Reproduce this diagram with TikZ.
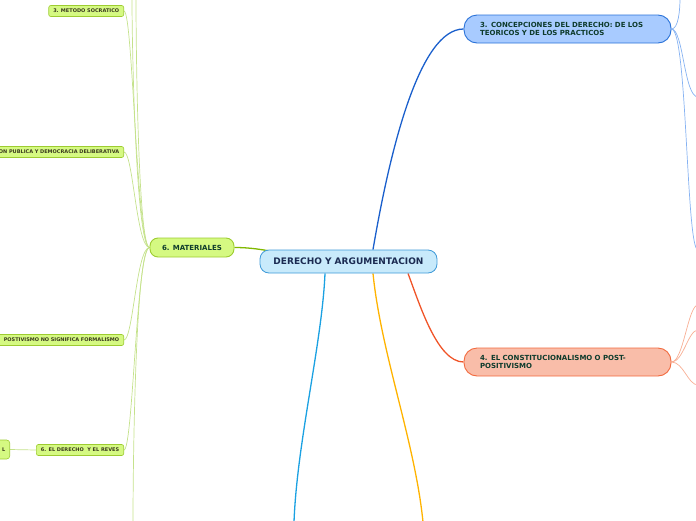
\documentclass[tikz,border=0pt]{standalone}
\usepackage{fontspec}
\setmainfont{DejaVu Sans}
\usetikzlibrary{calc, backgrounds}
\definecolor{rootfill}{HTML}{C8EAFB}
\definecolor{rootline}{HTML}{3E9AD8}
\definecolor{roottext}{HTML}{1B2B52}
\definecolor{nodetext}{HTML}{0E3B2C}
\definecolor{leaftext}{HTML}{3A3A1E}
\definecolor{bluefill}{HTML}{A8CBFF}
\definecolor{blueline}{HTML}{2A72D8}
\definecolor{bluetwig}{HTML}{86B2F2}
\definecolor{redfill}{HTML}{F9BDA9}
\definecolor{redline}{HTML}{F26A3E}
\definecolor{redtwig}{HTML}{F8AE94}
\definecolor{limefill}{HTML}{D5F982}
\definecolor{limeline}{HTML}{9DCC30}
\definecolor{limetwig}{HTML}{C5E28C}
\definecolor{linkblue}{HTML}{1A5FCC}
\definecolor{linkred}{HTML}{F05428}
\definecolor{linkgreen}{HTML}{80B800}
\definecolor{linkcyan}{HTML}{1BA1E2}
\definecolor{linkamber}{HTML}{FFB300}
\tikzset{
  rootbox/.style={rectangle, rounded corners=9pt, draw=rootline, fill=rootfill,
                  line width=0.8pt, minimum width=177pt, minimum height=23pt,
                  inner sep=0pt, text=roottext, font=\fontsize{9}{10}\selectfont\bfseries},
  mbox/.style={rectangle, rounded corners=13pt, draw=#1line, fill=#1fill,
               line width=0.9pt, minimum height=28pt, text width=175pt,
               inner xsep=16pt, inner ysep=0pt, align=left, text=nodetext,
               font=\fontsize{7}{8}\selectfont\bfseries},
  mbox/.default=blue,
  sbox/.style={rectangle, rounded corners=2pt, draw=limeline, fill=limefill,
               line width=0.6pt, minimum height=11pt, inner xsep=4.5pt, inner ysep=0pt,
               anchor=east, text=leaftext, font=\fontsize{5}{6}\selectfont\bfseries},
  conn/.style={line width=1.3pt, #1},
  conn/.default=gray,
  twig/.style={line width=0.7pt, #1},
  twig/.default=limetwig,
}

\begin{document}
\begin{tikzpicture}[x=1pt, y=-1pt]
  \useasboundingbox (0,0) rectangle (696,520);

  % central topic
  \node[rootbox] (root) at (348.5,261.5) {DERECHO Y ARGUMENTACION};

  % main topics
  \node[mbox=blue] (concep) at (567.5,29) {3. CONCEPCIONES DEL DERECHO: DE LOS\\TEORICOS Y DE LOS PRACTICOS};
  \node[mbox=red] (constit) at (567.5,362) {4. EL CONSTITUCIONALISMO O POST-\\POSITIVISMO};
  \node[rectangle, rounded corners=8pt, draw=limeline, fill=limefill, line width=0.9pt,
        minimum width=84pt, minimum height=19pt, inner sep=0pt, text=nodetext,
        font=\fontsize{7}{8}\selectfont\bfseries]
    (mat) at (192,247.5) {6. MATERIALES};

  % subtopics of 6. MATERIALES
  \node[sbox] (soc) at (124,11) {3. METODO SOCRATICO};
  \node[sbox, text width=150pt, align=right] (pub) at (124,152) {ON PUBLICA Y DEMOCRACIA DELIBERATIVA};
  \node[sbox, text width=150pt, align=right] (pos) at (124,340) {POSTIVISMO NO SIGNIFICA FORMALISMO};
  \node[sbox] (rev) at (124,450) {6. EL DERECHO~ Y EL REVES};
  \node[sbox, text width=40pt, align=right, minimum height=19pt, rounded corners=3pt] (ell) at (10,449.5) {L};

  % free ends beyond the page
  \coordinate (upA) at (132,-2);
  \coordinate (upB) at (136,-2);
  \coordinate (downA) at (133,522);
  \coordinate (blueA) at (680,-2);
  \coordinate (blueB) at (698,97);
  \coordinate (blueC) at (698,250);
  \coordinate (redA) at (698,305);
  \coordinate (redB) at (698,330);
  \coordinate (redC) at (698,385);
  \coordinate (cyanEnd) at (294,522);
  \coordinate (amberEnd) at (423,522);

  \begin{scope}[on background layer]
    % main branches
    \draw[conn=linkblue] ($(root.north)+(24.5,0)$) .. controls +(17,-100) and +(-44,0) .. (concep.west);
    \draw[conn=linkred] ($(root.south)+(59.5,0)$) .. controls +(12,32) and +(-26,0) .. (constit.west);
    \draw[conn=linkgreen] (mat.east) .. controls +(16,0) and +(-12,-2) .. ($(root.north west)+(14,2)$);
    \draw[conn=linkcyan] ($(root.south)+(-23.5,0)$) .. controls +(-3,70) and +(3,-80) .. (cyanEnd);
    \draw[conn=linkamber] ($(root.south)+(24.5,0)$) .. controls +(8,80) and +(-8,-80) .. (amberEnd);

    % twigs of 6. MATERIALES
    \draw[twig] (mat.west) .. controls +(-13,0) and +(0,60) .. (upA);
    \draw[twig] (mat.west) .. controls +(-11,0) and +(0,60) .. (upB);
    \draw[twig] (mat.west) .. controls +(-13,0) and +(9,0) .. (soc.east);
    \draw[twig] (mat.west) .. controls +(-13,0) and +(9,0) .. (pub.east);
    \draw[twig] (mat.west) .. controls +(-13,0) and +(9,0) .. (pos.east);
    \draw[twig] (mat.west) .. controls +(-13,0) and +(9,0) .. (rev.east);
    \draw[twig] (mat.west) .. controls +(-14,0) and +(0,-60) .. (downA);
    \draw[twig] (ell.east) -- (rev.west);

    % twigs of 3. CONCEPCIONES
    \draw[twig=bluetwig] (concep.east) .. controls +(7,0) and +(0,12) .. (blueA);
    \draw[twig=bluetwig] (concep.east) .. controls +(12,0) and +(-14,0) .. (blueB);
    \draw[twig=bluetwig] (concep.east) .. controls +(16,0) and +(-12,0) .. (blueC);

    % twigs of 4. CONSTITUCIONALISMO
    \draw[twig=redtwig] (constit.east) .. controls +(12,0) and +(-10,0) .. (redA);
    \draw[twig=redtwig] (constit.east) .. controls +(12,0) and +(-10,0) .. (redB);
    \draw[twig=redtwig] (constit.east) .. controls +(12,0) and +(-10,0) .. (redC);
  \end{scope}
\end{tikzpicture}
\end{document}
